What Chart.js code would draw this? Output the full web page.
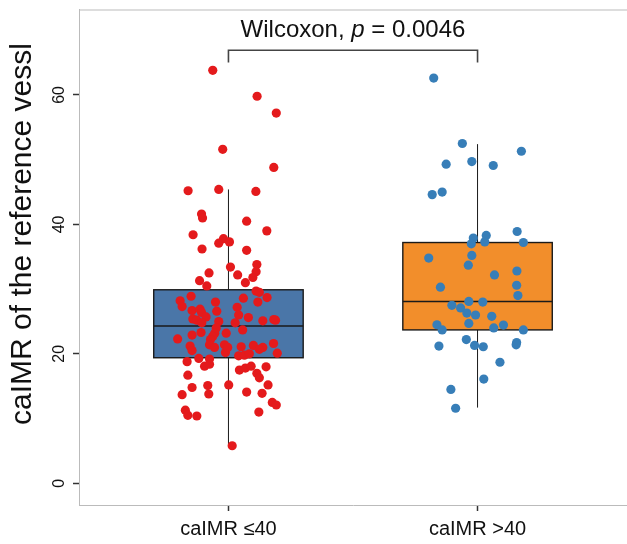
<!DOCTYPE html>
<html>
<head>
<meta charset="utf-8">
<script src="https://cdn.jsdelivr.net/npm/chart.js@4"></script>
<style>
  html, body { margin: 0; padding: 0; background: #fff; }
  canvas { display: block; }
</style>
</head>
<body>
<canvas id="boxChart" width="627" height="544"></canvas>
<script>
// categories and axis ticks
var categories = ["caIMR \u226440", "caIMR >40"];
var yTicks = [0, 20, 40, 60];
var yTitle = "caIMR of the reference vessl";

// box statistics, one entry per group
var boxQ1 = [19.4, 23.7];
var boxMedian = [24.3, 28.1];
var boxQ3 = [29.9, 37.2];
var whiskerLow = [5.8, 11.7];
var whiskerHigh = [45.4, 52.4];

// jittered points: offset from the category centre (x units) and value
var low40Jitter = [
  -0.063, 0.115, 0.192, -0.023, 0.182, -0.162, -0.039, 0.110, -0.108, -0.104,
  0.073, -0.142, 0.154, -0.020, -0.039, 0.004, -0.106, 0.073, 0.008, 0.114,
  0.111, -0.078, 0.037, -0.116, -0.087, 0.068, 0.098, 0.111, 0.124, -0.194,
  -0.186, -0.150, -0.052, 0.060, 0.118, 0.155, -0.146, -0.114, -0.108, -0.047,
  0.035, 0.041, -0.143, -0.127, -0.090, -0.039, -0.107, 0.080, 0.027, 0.138,
  0.182, 0.189, -0.049, -0.055, 0.057, -0.009, -0.110, -0.146, -0.204, -0.063,
  -0.072, -0.076, -0.056, -0.154, -0.146, -0.016, -0.012, -0.003, 0.051, 0.100,
  0.138, 0.124, 0.181, 0.196, 0.041, 0.064, 0.084, -0.119, -0.076, -0.166,
  -0.096, -0.076, 0.044, 0.068, 0.091, 0.151, 0.114, 0.124, -0.163, 0.159,
  0.001, -0.083, -0.079, -0.146, -0.186, 0.073, 0.135, 0.176, 0.192, -0.173,
  -0.163, -0.127, 0.122, 0.015
];
var low40Values = [
  63.8, 59.8, 57.2, 51.6, 48.8, 45.2, 45.4, 45.1, 41.6, 41.0,
  40.5, 38.4, 39.0, 37.8, 37.1, 37.3, 36.2, 36.0, 33.4, 33.8,
  32.7, 32.5, 32.2, 31.3, 30.5, 31.0, 31.8, 29.7, 29.5, 28.2,
  27.3, 28.9, 28.0, 28.6, 28.0, 28.7, 26.7, 26.9, 26.4, 26.6,
  27.2, 26.0, 25.4, 25.2, 25.7, 25.0, 24.8, 25.6, 24.8, 25.1,
  25.3, 25.2, 24.0, 23.2, 23.7, 23.2, 23.3, 22.9, 22.3, 22.7,
  22.2, 21.4, 21.0, 21.2, 20.5, 21.4, 20.2, 21.0, 21.1, 21.3,
  21.0, 20.7, 21.6, 20.1, 19.7, 19.8, 20.0, 19.3, 19.2, 18.8,
  18.1, 18.4, 17.5, 17.8, 18.1, 18.0, 17.0, 16.3, 16.7, 15.2,
  15.2, 15.1, 13.8, 14.8, 13.7, 14.1, 13.9, 12.5, 12.1, 11.3,
  10.5, 10.4, 11.0, 5.8
];
var high40Jitter = [
  -0.176, -0.061, 0.176, -0.126, -0.023, 0.063, -0.182, -0.142, -0.017, 0.035,
  0.159, -0.025, 0.029, 0.184, -0.196, -0.023, -0.037, 0.068, 0.158, 0.157,
  -0.149, 0.162, -0.035, 0.021, -0.103, -0.068, -0.043, -0.008, 0.057, -0.035,
  -0.163, -0.142, 0.065, 0.104, 0.184, -0.045, -0.155, -0.012, 0.023, 0.157,
  0.155, 0.090, 0.025, -0.107, -0.088
];
var high40Values = [
  62.6, 52.5, 51.3, 49.3, 49.7, 49.1, 44.6, 45.0, 37.9, 38.3,
  38.9, 37.0, 37.3, 37.2, 34.8, 35.2, 33.7, 32.2, 32.8, 30.6,
  30.3, 29.0, 28.1, 28.0, 27.5, 27.1, 26.3, 26.0, 25.8, 24.7,
  24.5, 23.7, 24.0, 24.45, 23.7, 22.2, 21.2, 21.3, 21.1, 21.75,
  21.4, 18.7, 16.1, 14.5, 11.6
];

// comparison bracket (y values) and label
var bracketTop = 66.9;
var bracketEnd = 65.0;
var labelY = 69.0;
var pValue = "0.0046";

var boxFill = ["#4a76a8", "#f28e2b"];
var pointColors = ["#e41a1c", "#377eb8"];
var FONT = "'Liberation Sans', Arial, Helvetica, sans-serif";

function toPoints(center, jitter, values) {
  return values.map(function (v, i) { return { x: center + jitter[i], y: v }; });
}

var boxPlugin = {
  id: 'boxes',
  beforeDatasetsDraw: function (chart) {
    var ctx = chart.ctx, xs = chart.scales.x, ys = chart.scales.y;
    ctx.save();
    for (var i = 0; i < categories.length; i++) {
      var cx = xs.getPixelForValue(i + 1);
      var x0 = xs.getPixelForValue(i + 1 - 0.3);
      var x1 = xs.getPixelForValue(i + 1 + 0.3);
      var q1 = ys.getPixelForValue(boxQ1[i]);
      var q3 = ys.getPixelForValue(boxQ3[i]);
      var md = ys.getPixelForValue(boxMedian[i]);
      ctx.strokeStyle = '#1a1a1a';
      ctx.lineWidth = 1;
      ctx.beginPath();
      ctx.moveTo(cx, ys.getPixelForValue(whiskerHigh[i]));
      ctx.lineTo(cx, q3);
      ctx.moveTo(cx, q1);
      ctx.lineTo(cx, ys.getPixelForValue(whiskerLow[i]));
      ctx.stroke();
      ctx.fillStyle = boxFill[i];
      ctx.fillRect(x0, q3, x1 - x0, q1 - q3);
      ctx.lineWidth = 1.4;
      ctx.strokeRect(x0, q3, x1 - x0, q1 - q3);
      ctx.beginPath();
      ctx.moveTo(x0, md);
      ctx.lineTo(x1, md);
      ctx.stroke();
    }
    ctx.restore();
  },
  afterDraw: function (chart) {
    var ctx = chart.ctx, xs = chart.scales.x, ys = chart.scales.y, a = chart.chartArea;
    ctx.save();
    // top panel border
    ctx.strokeStyle = '#bbbbbb';
    ctx.lineWidth = 1;
    ctx.beginPath();
    ctx.moveTo(a.left, a.top + 0.5);
    ctx.lineTo(a.right, a.top + 0.5);
    ctx.stroke();
    // y axis title
    ctx.save();
    ctx.translate(23, 234);
    ctx.rotate(-Math.PI / 2);
    ctx.font = "30px " + FONT;
    ctx.fillStyle = '#111';
    ctx.textAlign = 'center';
    ctx.textBaseline = 'middle';
    ctx.fillText(yTitle, 0, 0);
    ctx.restore();
    // bracket
    var bx0 = xs.getPixelForValue(1), bx1 = xs.getPixelForValue(2);
    var by = ys.getPixelForValue(bracketTop), be = ys.getPixelForValue(bracketEnd);
    ctx.strokeStyle = '#444';
    ctx.lineWidth = 1.6;
    ctx.beginPath();
    ctx.moveTo(bx0, be);
    ctx.lineTo(bx0, by);
    ctx.lineTo(bx1, by);
    ctx.lineTo(bx1, be);
    ctx.stroke();
    // label with italic p
    var parts = [["Wilcoxon, ", "normal"], ["p", "italic"], [" = " + pValue, "normal"]];
    var total = 0;
    parts.forEach(function (p) {
      ctx.font = p[1] + " 24px " + FONT;
      p.push(ctx.measureText(p[0]).width);
      total += p[2];
    });
    var tx = xs.getPixelForValue(1.5) - total / 2;
    var ty = ys.getPixelForValue(labelY);
    ctx.fillStyle = '#111';
    ctx.textBaseline = 'alphabetic';
    ctx.textAlign = 'left';
    parts.forEach(function (p) {
      ctx.font = p[1] + " 24px " + FONT;
      ctx.fillText(p[0], tx, ty);
      tx += p[2];
    });
    ctx.restore();
  }
};

var config = {
  type: 'scatter',
  data: {
    datasets: [
      {
        label: categories[0],
        data: toPoints(1, low40Jitter, low40Values),
        backgroundColor: pointColors[0],
        borderWidth: 0,
        pointRadius: 4.6
      },
      {
        label: categories[1],
        data: toPoints(2, high40Jitter, high40Values),
        backgroundColor: pointColors[1],
        borderWidth: 0,
        pointRadius: 4.6
      }
    ]
  },
  options: {
    responsive: false,
    devicePixelRatio: 1,
    animation: false,
    layout: { autoPadding: false, padding: { top: 9.5, right: 0, left: 0, bottom: 0 } },
    plugins: {
      legend: { display: false },
      tooltip: { enabled: false }
    },
    scales: {
      x: {
        type: 'linear',
        min: 0.4,
        max: 2.6,
        afterBuildTicks: function (scale) {
          scale.ticks = [{ value: 1 }, { value: 2 }];
        },
        afterFit: function (scale) {
          scale.height = 39;
          scale.paddingLeft = 0;
          scale.paddingRight = 0;
        },
        ticks: {
          callback: function (v) { return categories[v - 1]; },
          color: '#111',
          font: { family: FONT, size: 20 },
          padding: 6,
          maxRotation: 0,
          minRotation: 0
        },
        grid: {
          drawOnChartArea: false,
          drawTicks: true,
          tickLength: 6,
          tickWidth: 1.5,
          color: '#333'
        },
        border: { display: true, color: '#bbbbbb', width: 1 }
      },
      y: {
        min: -3.35,
        max: 73.2,
        afterBuildTicks: function (scale) {
          scale.ticks = yTicks.map(function (v) { return { value: v }; });
        },
        afterFit: function (scale) {
          scale.width = 79;
          scale.paddingTop = 0;
          scale.paddingBottom = 0;
        },
        ticks: {
          color: '#111',
          font: { family: FONT, size: 16 },
          minRotation: 90,
          maxRotation: 90,
          crossAlign: 'center',
          padding: 5
        },
        grid: {
          drawOnChartArea: false,
          drawTicks: true,
          tickLength: 6,
          tickWidth: 1.5,
          color: '#333'
        },
        border: { display: true, color: '#bbbbbb', width: 1 }
      }
    }
  },
  plugins: [boxPlugin]
};

var ctx = document.getElementById("boxChart");
new Chart(ctx, config);
</script>
</body>
</html>
